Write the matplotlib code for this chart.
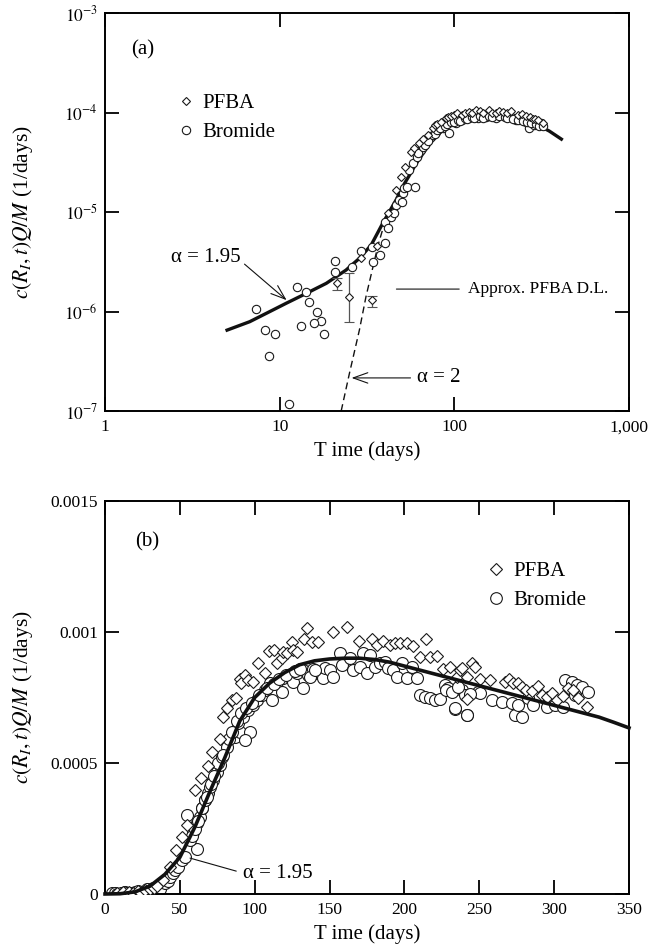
import numpy as np
import matplotlib
matplotlib.use('Agg')
import matplotlib.pyplot as plt
from matplotlib.lines import Line2D
from matplotlib.ticker import NullLocator

plt.rcParams['font.family'] = ['Liberation Serif', 'DejaVu Serif']
plt.rcParams['mathtext.fontset'] = 'stix'

# ---- panel (a): log-log ----
a_br_t = [7.36, 8.21, 9.36, 8.69, 11.3, 12.6, 14.1, 14.8, 16.4, 17.3, 15.7, 13.3, 17.9,
          20.8, 20.8, 26.0, 29.3, 33.9, 34.1, 37.3, 40.3, 40.0, 41.6, 43.5, 45.4, 46.5,
          48.5, 50.2, 50.6, 51.8, 53.4, 55.3, 57.8, 59.8, 60.8, 64.5, 69.0, 73.6, 78.8,
          85.8, 93.6, 102, 111, 122, 136, 152, 173, 189, 211, 225, 240, 257, 268, 287, 313,
          62, 66, 68, 71, 75, 77, 80, 83, 88, 91, 96, 99, 105, 108, 115, 118, 126, 130,
          140, 145, 158, 165, 180, 195, 200, 218, 232, 248, 262, 275, 295, 305, 320]
a_br_c = [1.05e-6, 6.5e-7, 5.9e-7, 3.57e-7, 1.17e-7, 1.77e-6, 1.57e-6, 1.24e-6, 9.8e-7, 8.1e-7,
          7.6e-7, 7.1e-7, 5.9e-7, 3.24e-6, 2.48e-6, 2.78e-6, 4.08e-6, 4.41e-6, 3.17e-6, 3.70e-6,
          4.84e-6, 8.0e-6, 6.86e-6, 8.97e-6, 9.7e-6, 1.18e-5, 1.32e-5, 1.27e-5, 1.54e-5, 1.73e-5,
          1.80e-5, 2.64e-5, 3.09e-5, 1.80e-5, 3.6e-5, 4.2e-5, 4.9e-5, 5.7e-5, 6.4e-5, 6.94e-5,
          6.18e-5, 7.78e-5, 8.4e-5, 8.74e-5, 8.74e-5, 9.1e-5, 8.74e-5, 9.4e-5, 9.1e-5, 8.4e-5,
          8.74e-5, 8.1e-5, 6.94e-5, 7.49e-5, 7.78e-5,
          3.9e-5, 4.5e-5, 4.7e-5, 5.2e-5, 5.9e-5, 6.1e-5, 6.6e-5, 7.0e-5, 7.3e-5, 7.6e-5,
          8.0e-5, 8.1e-5, 8.5e-5, 8.3e-5, 8.8e-5, 8.6e-5, 9.0e-5, 8.9e-5, 9.2e-5, 8.9e-5,
          9.3e-5, 9.0e-5, 9.2e-5, 9.0e-5, 8.8e-5, 8.6e-5, 8.5e-5, 8.3e-5, 8.0e-5, 7.9e-5,
          7.6e-5, 7.4e-5, 7.3e-5]

a_pf_t = [29.3, 36.0, 41.6, 46.5, 49.6, 51.9, 56.5, 59.1, 62.5, 65.9, 70.4, 75.2, 77.6, 80,
          84.0, 89.7, 92, 95.8, 100, 104, 111, 115, 122, 127, 133, 140, 145, 158, 165, 173,
          180, 189, 200, 211, 230, 245, 257, 270, 281, 290, 303, 320]
a_pf_c = [3.42e-6, 4.6e-6, 9.7e-6, 1.66e-5, 2.26e-5, 2.85e-5, 4.04e-5, 4.36e-5, 4.90e-5, 5.38e-5,
          5.94e-5, 6.94e-5, 7.49e-5, 7.6e-5, 8.09e-5, 8.74e-5, 9.0e-5, 9.2e-5, 9.5e-5, 9.8e-5,
          9.4e-5, 1.0e-4, 1.02e-4, 9.9e-5, 1.06e-4, 1.03e-4, 9.8e-5, 1.06e-4, 1.0e-4, 9.8e-5,
          1.03e-4, 1.02e-4, 9.9e-5, 1.04e-4, 9.4e-5, 9.6e-5, 9.2e-5, 9.0e-5, 8.7e-5, 8.6e-5,
          8.4e-5, 7.8e-5]

# PFBA points near the detection limit, with error bars
a_pfe_t = [21.3, 24.9, 33.9]
a_pfe_c = [1.92e-6, 1.41e-6, 1.29e-6]
a_pfe_lo = [1.66e-6, 7.9e-7, 1.10e-6]
a_pfe_hi = [2.15e-6, 2.42e-6, 1.44e-6]

a_fit_t = [5.0, 6.74, 8.4, 10.9, 14.2, 18.5, 24.0, 28.6, 33.4, 38.9, 46.4, 50.6, 55, 60, 70,
           80, 90, 100, 120, 150, 180, 220, 260, 300, 350, 410]
a_fit_c = [6.5e-7, 7.9e-7, 9.6e-7, 1.21e-6, 1.52e-6, 1.92e-6, 2.61e-6, 3.42e-6, 4.65e-6,
           7.7e-6, 1.32e-5, 1.8e-5, 2.3e-5, 3.0e-5, 4.5e-5, 6.0e-5, 7.0e-5, 7.8e-5, 8.7e-5,
           9.2e-5, 9.2e-5, 8.8e-5, 8.2e-5, 7.5e-5, 6.5e-5, 5.4e-5]

a_dash_t = [22.5, 25.1, 28.6, 31.2, 34.4, 36.6, 40, 46.4]
a_dash_c = [1e-7, 2.4e-7, 6.5e-7, 1.41e-6, 2.93e-6, 4.65e-6, 7.9e-6, 1.32e-5]

# ---- panel (b): linear, values in units of 1e-3 ----
b_br_t = [5, 6.7, 8, 10, 11, 13.4, 15, 17.8, 19, 20, 22.3, 25, 27.8, 30, 32.3, 34, 35.6, 37,
          40.1, 42, 43.4, 45.6, 47, 49.0, 51.2, 53.4, 61.2, 55.0, 56.8, 59.0, 61.2, 63.5, 64.6,
          66.8, 69.0, 70.1, 72.3, 74.6, 76.8, 75.7, 77.9, 81.3, 86.8, 90.2, 96.9, 93.5, 89,
          92.4, 95.7, 99.1, 101.3, 104.7, 106.9, 111.4, 110.2, 114.7, 118, 119.1, 123.6, 125.8,
          128, 132.5, 132.5, 135.8, 139.1, 141.4, 145.8, 147, 150.3, 136.9, 140.3, 152.5, 157,
          158.1, 163.7, 165.9, 170.3, 172.5, 174.8, 177, 180.4, 183.7, 187, 189.3, 192.6, 194.9,
          198.2, 201.5, 204.9, 208.2, 210.4, 213.8, 217.1, 220.4, 223.8, 227.1, 229.3, 233.8,
          241.6, 249.4, 238.3, 240.5, 250.5, 258.3, 265, 271.7, 273.9, 278.3, 276.1, 282.8,
          286.1, 295.1, 300.6, 306.2, 307.3, 311.8, 315, 318.4, 322.9, 314,
          58, 60, 62, 65, 67, 68, 71, 73, 79, 83, 85, 88, 91, 94, 98, 103, 108, 113, 116, 121,
          127, 130, 228, 232, 236, 244, 234, 242]
b_br_v = [0.002, 0.005, 0.0, 0.0, 0.004, 0.009, 0.003, 0.005, 0.0, 0.008, 0.013, 0.006, 0.018,
          0.012, 0.022, 0.008, 0.031, 0.020, 0.041, 0.050, 0.066, 0.079, 0.090, 0.104, 0.130,
          0.142, 0.171, 0.302, 0.206, 0.238, 0.270, 0.295, 0.327, 0.359, 0.384, 0.410, 0.435,
          0.467, 0.492, 0.499, 0.524, 0.562, 0.600, 0.620, 0.620, 0.588, 0.651, 0.677, 0.702,
          0.721, 0.740, 0.760, 0.779, 0.740, 0.804, 0.810, 0.772, 0.823, 0.829, 0.810, 0.842,
          0.785, 0.855, 0.836, 0.858, 0.842, 0.823, 0.861, 0.855, 0.829, 0.855, 0.829, 0.919,
          0.874, 0.900, 0.855, 0.868, 0.919, 0.842, 0.912, 0.868, 0.880, 0.887, 0.861, 0.855,
          0.829, 0.880, 0.823, 0.868, 0.823, 0.760, 0.753, 0.747, 0.740, 0.743, 0.798, 0.785,
          0.708, 0.683, 0.772, 0.779, 0.760, 0.766, 0.740, 0.734, 0.728, 0.683, 0.677, 0.721,
          0.747, 0.721, 0.715, 0.721, 0.715, 0.817, 0.810, 0.798, 0.791, 0.772, 0.760,
          0.220, 0.250, 0.280, 0.330, 0.360, 0.370, 0.420, 0.450, 0.530, 0.590, 0.620, 0.660,
          0.690, 0.710, 0.730, 0.760, 0.785, 0.800, 0.820, 0.835, 0.850, 0.860, 0.780, 0.770,
          0.790, 0.765, 0.710, 0.683]

b_pf_t = [8, 12, 16, 19, 22, 24, 27, 30, 33, 35,
          39, 43.4, 47.4, 51.2, 54.6, 60.1, 64.0, 68.5, 71.3, 76.8, 78.6, 81.7, 84.6, 87.5, 90.2,
          90.6, 93.5, 95.7, 99.1, 102.4, 106.9, 109.8, 112.9, 114.7, 118.0, 118.7, 121.4, 124.7,
          125.8, 128.0, 132.9, 134.7, 138.1, 142.5, 152.5, 161.4, 169.9, 178.1, 181.5, 185.9,
          190.4, 193.7, 197.1, 201.5, 206.0, 210.4, 214.4, 217.1, 221.6, 226.0, 230.5, 234.9,
          237.1, 238.3, 241.6, 241.6, 245.0, 247.2, 250.5, 257.2, 267.2, 270.1, 272.8, 276.1,
          278.3, 281.2, 285.0, 289.5, 291.7, 295.1, 298.4, 301.7, 306.2, 309.5, 312.8, 316.2,
          321.8]
b_pf_v = [0.004, 0.009, 0.006, 0.005, 0.012, 0.004, 0.015, 0.020, 0.022, 0.030,
          0.053, 0.104, 0.168, 0.216, 0.263, 0.397, 0.441, 0.488, 0.543, 0.591, 0.677, 0.711,
          0.740, 0.747, 0.819, 0.804, 0.836, 0.817, 0.810, 0.880, 0.842, 0.929, 0.931, 0.880,
          0.900, 0.925, 0.919, 0.963, 0.931, 0.925, 0.972, 1.014, 0.963, 0.963, 1.001, 1.020,
          0.967, 0.974, 0.950, 0.967, 0.950, 0.959, 0.959, 0.959, 0.947, 0.904, 0.974, 0.903,
          0.910, 0.858, 0.868, 0.829, 0.855, 0.861, 0.829, 0.745, 0.883, 0.865, 0.819, 0.817,
          0.810, 0.819, 0.804, 0.807, 0.791, 0.779, 0.773, 0.794, 0.760, 0.751, 0.768, 0.740,
          0.756, 0.785, 0.779, 0.747, 0.715]

b_fit_t = [0, 10, 20, 30, 40, 50, 60, 70, 80, 90, 100, 110, 120, 130, 140, 150, 160, 170, 180,
           190, 200, 210, 220, 230, 240, 250, 260, 270, 280, 290, 300, 310, 320, 330, 340, 350]
b_fit_v = [0, 0.001, 0.008, 0.030, 0.075, 0.140, 0.255, 0.390, 0.520, 0.660, 0.750, 0.805,
           0.845, 0.875, 0.890, 0.897, 0.900, 0.900, 0.895, 0.885, 0.870, 0.855, 0.840, 0.825,
           0.810, 0.795, 0.780, 0.765, 0.750, 0.735, 0.720, 0.705, 0.690, 0.675, 0.655, 0.634]

EDGE = '#1a1a1a'


def style_axes(ax):
    for s in ax.spines.values():
        s.set_linewidth(1.4)
    ax.tick_params(which='major', direction='in', length=10, width=1.3,
                   top=True, right=True, labelsize=12.5)
    ax.tick_params(axis='x', pad=6)
    ax.tick_params(axis='y', pad=5)
    ax.xaxis.set_minor_locator(NullLocator())
    ax.yaxis.set_minor_locator(NullLocator())


def legend_handles(ms_d, ms_o):
    return [Line2D([], [], ls='none', marker='D', ms=ms_d, mfc='white', mec=EDGE, mew=0.8),
            Line2D([], [], ls='none', marker='o', ms=ms_o, mfc='white', mec=EDGE, mew=0.8)]


fig = plt.figure(figsize=(6.59, 9.52), dpi=100)
ax1 = fig.add_axes([105 / 659, 1 - 411 / 952, 524 / 659, 398 / 952])
ax2 = fig.add_axes([105 / 659, 1 - 894 / 952, 524 / 659, 393 / 952])

# ---------------- (a) ----------------
ax1.set_xscale('log')
ax1.set_yscale('log')
ax1.plot(a_fit_t, a_fit_c, color='#111111', lw=2.4, zorder=1)
ax1.plot(a_dash_t, a_dash_c, color='#111111', lw=1.0, ls=(0, (5, 3)), zorder=1)
ax1.plot(a_br_t, a_br_c, ls='none', marker='o', ms=6, mfc='white', mec=EDGE, mew=0.8, zorder=2)
ax1.plot(a_pf_t, a_pf_c, ls='none', marker='D', ms=4.2, mfc='white', mec=EDGE, mew=0.8, zorder=3)
yerr = [np.array(a_pfe_c) - np.array(a_pfe_lo), np.array(a_pfe_hi) - np.array(a_pfe_c)]
ax1.errorbar(a_pfe_t, a_pfe_c, yerr=yerr, fmt='D', ms=4.2, mfc='white', mec=EDGE, mew=0.8,
             ecolor='#555555', elinewidth=0.9, capsize=3.5, capthick=0.9, zorder=3)

ax1.set_xlim(1, 1000)
ax1.set_ylim(1e-7, 1e-3)
ax1.set_xticks([1, 10, 100, 1000])
ax1.set_xticklabels(['1', '10', '100', '1,000'])
ax1.set_yticks([1e-7, 1e-6, 1e-5, 1e-4, 1e-3])
ax1.set_yticklabels([r'$10^{-7}$', r'$10^{-6}$', r'$10^{-5}$', r'$10^{-4}$', r'$10^{-3}$'])
style_axes(ax1)
ax1.set_xlabel('T ime (days)', fontsize=15, labelpad=4)
ax1.set_ylabel(r'$c(R_I,t)Q/M$ (1/days)', fontsize=15.5)
ax1.yaxis.set_label_coords(-0.134, 0.5)

ax1.text(0.0725, 0.907, '(a)', transform=ax1.transAxes, ha='center', va='center', fontsize=15)
ax1.legend(legend_handles(4.4, 6), ['PFBA', 'Bromide'], loc='center left',
           bbox_to_anchor=(0.134, 0.737), frameon=False, handlelength=1.0,
           handletextpad=0.3, labelspacing=0.45, borderpad=0, borderaxespad=0, fontsize=15)

ax1.annotate('α = 1.95', xy=(10.96, 1.30e-6), xytext=(5.98, 3.45e-6), ha='right', va='center',
             fontsize=15,
             arrowprops=dict(arrowstyle='->,head_length=0.7,head_width=0.25', lw=0.8,
                             color='#111111', relpos=(1.0, 0.35), shrinkA=1, shrinkB=0))
ax1.annotate('α = 2', xy=(25.8, 2.15e-7), xytext=(61.5, 2.15e-7), ha='left', va='center',
             fontsize=15,
             arrowprops=dict(arrowstyle='->,head_length=0.7,head_width=0.25', lw=0.8,
                             color='#111111', relpos=(0.0, 0.5), shrinkA=3, shrinkB=0))
ax1.annotate('Approx. PFBA D.L.', xy=(46.6, 1.68e-6), xytext=(119, 1.68e-6), ha='left',
             va='center', fontsize=12.5,
             arrowprops=dict(arrowstyle='-', lw=0.8, color='#111111', relpos=(0.0, 0.5),
                             shrinkA=4, shrinkB=0))

# ---------------- (b) ----------------
ax2.plot(b_br_t, np.array(b_br_v) * 1e-3, ls='none', marker='o', ms=8.6, mfc='white',
         mec=EDGE, mew=0.8, zorder=2)
ax2.plot(b_pf_t, np.array(b_pf_v) * 1e-3, ls='none', marker='D', ms=6.4, mfc='white',
         mec=EDGE, mew=0.8, zorder=3)
ax2.plot(b_fit_t, np.array(b_fit_v) * 1e-3, color='#111111', lw=2.6, zorder=4, clip_on=False)

ax2.set_xlim(0, 350)
ax2.set_ylim(0, 0.0015)
ax2.set_xticks([0, 50, 100, 150, 200, 250, 300, 350])
ax2.set_yticks([0, 0.0005, 0.001, 0.0015])
ax2.set_yticklabels(['0', '0.0005', '0.001', '0.0015'])
style_axes(ax2)
ax2.set_xlabel('T ime (days)', fontsize=15, labelpad=4)
ax2.set_ylabel(r'$c(R_I,t)Q/M$ (1/days)', fontsize=15.5)
ax2.yaxis.set_label_coords(-0.134, 0.5)

ax2.text(0.080, 0.896, '(b)', transform=ax2.transAxes, ha='center', va='center', fontsize=15)
ax2.legend(legend_handles(6.0, 8.4), ['PFBA', 'Bromide'], loc='center left',
           bbox_to_anchor=(0.727, 0.784), frameon=False, handlelength=1.0,
           handletextpad=0.3, labelspacing=0.45, borderpad=0, borderaxespad=0, fontsize=15)

ax2.annotate('α = 1.95', xy=(56.8, 0.137e-3), xytext=(92.2, 0.080e-3), ha='left', va='center',
             fontsize=15,
             arrowprops=dict(arrowstyle='-', lw=0.8, color='#111111', relpos=(0.0, 0.5),
                             shrinkA=3, shrinkB=0))

fig.savefig('out.png', dpi=100)
